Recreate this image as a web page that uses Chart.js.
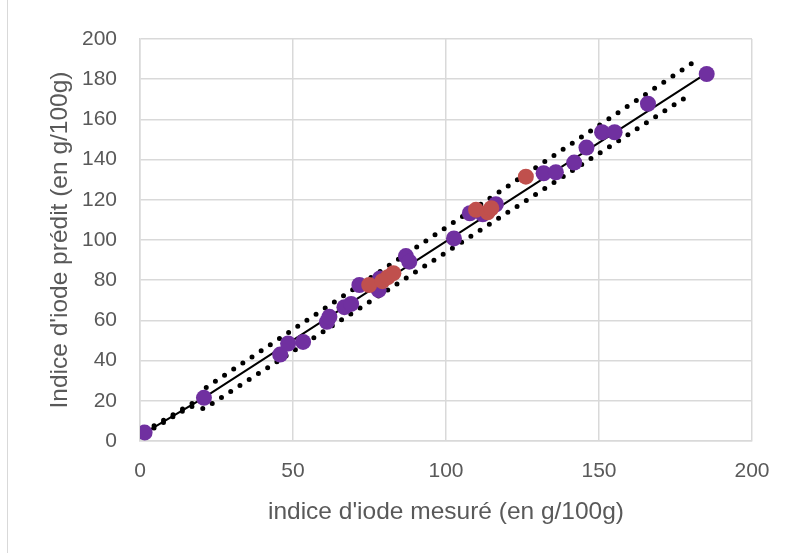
<!DOCTYPE html>
<html>
<head>
<meta charset="utf-8">
<script src="https://cdn.jsdelivr.net/npm/chart.js@4"></script>
<style>
  html, body { margin: 0; padding: 0; background: #fff; }
  #wrap { position: relative; width: 789px; height: 553px; }
  #frame { position: absolute; left: 7px; top: 0; width: 1px; height: 553px; background: #d9d9d9; }
  canvas { position: absolute; left: 0; top: 0; }
</style>
</head>
<body>
<div id="wrap">
  <div id="frame"></div>
  <canvas id="chart" width="789" height="553"></canvas>
</div>
<script>
// calibration samples (purple)
const calX = [1.5, 20.9, 45.8, 48.4, 53.3, 61.1, 61.9, 66.8, 69.0, 71.7, 78.0, 78.4, 86.9, 88.0,
  102.6, 107.8, 112.0, 116.3, 131.9, 135.9, 141.9, 145.9, 151.0, 155.1, 166.0, 185.2];
const calY = [4.2, 21.5, 43.0, 48.5, 49.3, 59.3, 61.8, 66.6, 68.2, 77.6, 75.1, 80.9, 92.0, 89.2,
  100.8, 113.3, 112.8, 117.8, 133.2, 133.7, 138.5, 146.0, 153.6, 153.6, 167.8, 182.6];

// validation samples (red)
const valX = [74.9, 79.2, 81.0, 82.8, 109.8, 113.6, 114.8, 126.1];
const valY = [77.6, 79.5, 81.5, 83.5, 115.0, 113.8, 115.8, 131.5];

// fitted line and dotted limits
const fitX = [1.5, 20.9, 185.2];
const fitY = [4.0, 21.6, 183.0];
const upX = [1.5, 18.5, 21.0, 180.5];
const upY = [4.8, 20.0, 26.0, 188.0];
const lowX = [1.5, 16.5, 21.0, 180.5];
const lowY = [3.6, 17.3, 16.1, 173.1];

const xTicks = [0, 50, 100, 150, 200];
const yStep = 20;

const pts = (xs, ys) => xs.map((x, i) => ({ x: x, y: ys[i] }));

const tickFont = { family: 'Liberation Sans', size: 21 };
const titleFont = { family: 'Liberation Sans', size: 24.5 };
const grey = '#595959';

new Chart(document.getElementById('chart'), {
  type: 'scatter',
  data: {
    datasets: [
      {
        data: pts(valX, valY),
        backgroundColor: '#c0504d', borderWidth: 0,
        pointRadius: 8, pointHoverRadius: 8, order: 0
      },
      {
        data: pts(calX, calY),
        backgroundColor: '#7030a0', borderWidth: 0,
        pointRadius: 8, pointHoverRadius: 8, order: 1
      },
      {
        data: pts(fitX, fitY), showLine: true, pointRadius: 0,
        borderColor: '#000', borderWidth: 2, order: 2
      },
      {
        data: pts(upX, upY), showLine: true, pointRadius: 0,
        borderColor: '#000', borderWidth: 5, borderDash: [0, 11], borderCapStyle: 'round', order: 3
      },
      {
        data: pts(lowX, lowY), showLine: true, pointRadius: 0,
        borderColor: '#000', borderWidth: 5, borderDash: [0, 11], borderCapStyle: 'round', order: 3
      }
    ]
  },
  options: {
    responsive: false,
    animation: false,
    devicePixelRatio: 1,
    layout: { padding: { left: 0, top: 39, right: 37, bottom: 0 } },
    plugins: { legend: { display: false }, tooltip: { enabled: false } },
    scales: {
      x: {
        type: 'linear', min: 0, max: 200,
        afterBuildTicks: s => { s.ticks = xTicks.map(v => ({ value: v })); },
        afterFit: s => { s.height = 112; },
        grid: { color: '#d9d9d9', lineWidth: 1.5, drawTicks: false },
        border: { color: '#d9d9d9', width: 1.5 },
        ticks: { color: grey, font: tickFont, padding: 18, maxRotation: 0 },
        title: { display: true, text: "indice d'iode mesuré (en g/100g)", color: grey, font: titleFont, padding: { top: 0, bottom: 26 } }
      },
      y: {
        type: 'linear', min: 0, max: 200,
        afterFit: s => { s.width = 140; },
        grid: { color: '#d9d9d9', lineWidth: 1.5, drawTicks: false },
        border: { color: '#d9d9d9', width: 1.5 },
        ticks: { color: grey, font: tickFont, padding: 23, stepSize: yStep },
        title: { display: true, text: "Indice d'iode prédit (en g/100g)", color: grey, font: titleFont, padding: { top: 46, bottom: 0 } }
      }
    }
  }
});
</script>
</body>
</html>
